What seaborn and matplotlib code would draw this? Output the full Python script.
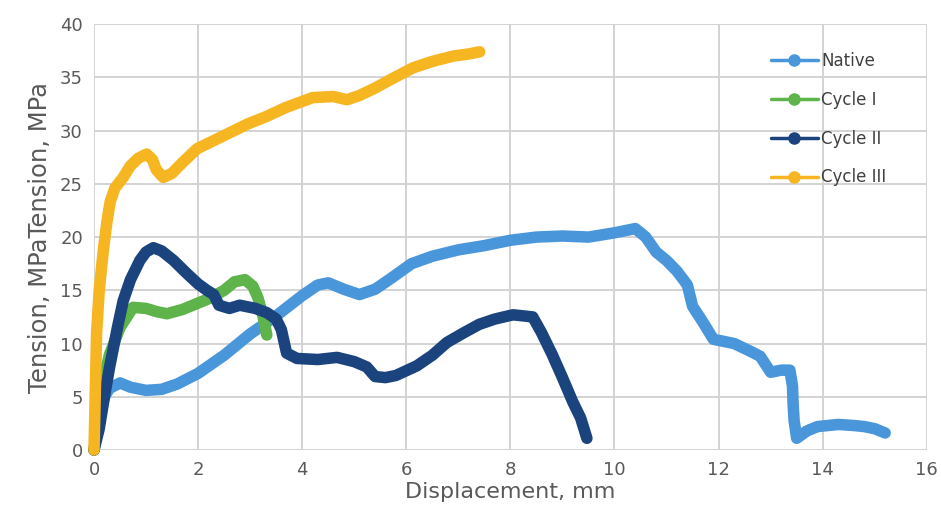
import numpy as np
import pandas as pd
import matplotlib
matplotlib.use("Agg")
import matplotlib.pyplot as plt
import seaborn as sns
from matplotlib.lines import Line2D

# ---- data ----
native_x = [0, 0.1, 0.2, 0.3, 0.5, 0.7, 1.0, 1.3, 1.6, 2.0, 2.5, 3.0, 3.5, 4.0, 4.3, 4.5, 4.8, 5.1,
            5.4, 5.7, 6.1, 6.5, 7.0, 7.5, 8.0, 8.5, 9.0, 9.5, 10.0, 10.4, 10.6, 10.8, 11.0, 11.2,
            11.4, 11.5, 11.7, 11.9, 12.3, 12.6, 12.8, 13.0, 13.2, 13.37, 13.42, 13.43, 13.45, 13.5,
            13.7, 13.9, 14.3, 14.6, 14.8, 15.0, 15.2]
native_y = [0, 3.0, 5.0, 5.8, 6.3, 5.9, 5.6, 5.7, 6.2, 7.2, 8.9, 10.9, 12.6, 14.5, 15.5, 15.7, 15.1, 14.6,
            15.1, 16.1, 17.5, 18.2, 18.8, 19.2, 19.7, 20.0, 20.1, 20.0, 20.4, 20.8, 20.0, 18.6, 17.8, 16.8,
            15.5, 13.5, 12.0, 10.4, 10.0, 9.3, 8.8, 7.3, 7.5, 7.5, 6.0, 4.5, 2.8, 1.1,
            1.8, 2.2, 2.4, 2.3, 2.2, 2.0, 1.6]

cycle1_x = [0, 0.1, 0.2, 0.3, 0.5, 0.75, 1.0, 1.2, 1.4, 1.7, 2.0, 2.2, 2.5, 2.7, 2.9, 3.05, 3.15, 3.25, 3.32]
cycle1_y = [0, 4.0, 7.0, 9.0, 11.5, 13.4, 13.3, 13.0, 12.8, 13.2, 13.8, 14.2, 15.0, 15.8, 16.0, 15.4, 14.3, 12.5, 10.8]

cycle2_x = [0, 0.1, 0.2, 0.3, 0.45, 0.56, 0.7, 0.88, 1.0, 1.14, 1.3, 1.53, 1.78, 2.0, 2.17, 2.3, 2.4, 2.6,
            2.8, 3.1, 3.32, 3.5, 3.6, 3.7, 3.9, 4.3, 4.67, 5.0, 5.24, 5.4, 5.6, 5.8, 6.2, 6.5, 6.78, 7.1,
            7.4, 7.7, 8.05, 8.43, 8.6, 8.8, 9.0, 9.2, 9.35, 9.47]
cycle2_y = [0, 2.0, 5.0, 7.8, 11.5, 14.0, 16.0, 17.8, 18.6, 19.0, 18.7, 17.8, 16.6, 15.6, 15.0, 14.6, 13.6, 13.3,
            13.6, 13.3, 12.9, 12.3, 11.3, 9.1, 8.6, 8.5, 8.7, 8.3, 7.8, 6.9, 6.8, 7.0, 7.9, 8.9, 10.1, 11.0,
            11.8, 12.3, 12.7, 12.5, 11.0, 9.0, 6.8, 4.5, 3.0, 1.1]

cycle3_x = [0, 0.05, 0.1, 0.18, 0.25, 0.31, 0.4, 0.56, 0.7, 0.85, 1.01, 1.12, 1.2, 1.33, 1.5, 1.7, 1.98, 2.4,
            2.94, 3.3, 3.7, 4.2, 4.6, 4.86, 5.1, 5.4, 5.7, 6.13, 6.5, 6.9, 7.2, 7.41]
cycle3_y = [0, 11.0, 15.0, 18.8, 21.5, 23.3, 24.6, 25.6, 26.7, 27.4, 27.8, 27.3, 26.3, 25.6, 26.0, 27.0, 28.3, 29.3,
            30.6, 31.3, 32.2, 33.1, 33.2, 32.9, 33.3, 34.0, 34.8, 35.9, 36.5, 37.0, 37.2, 37.4]

series_names = ["Native", "Cycle I", "Cycle II", "Cycle III"]
series_colors = ["#4A96DA", "#5EB34A", "#1B447E", "#F6B622"]
x_ticks = [0, 2, 4, 6, 8, 10, 12, 14, 16]
y_ticks = [0, 5, 10, 15, 20, 25, 30, 35, 40]

frames = []
for name, xs, ys in zip(series_names,
                        [native_x, cycle1_x, cycle2_x, cycle3_x],
                        [native_y, cycle1_y, cycle2_y, cycle3_y]):
    frames.append(pd.DataFrame({"x": xs, "y": ys, "series": name, "order": np.arange(len(xs))}))
df = pd.concat(frames, ignore_index=True)

sns.set_style("white")
fig = plt.figure(figsize=(9.41, 5.14), dpi=100)
ax = fig.add_axes([0.0999, 0.1245, 0.885, 0.8285])

palette = dict(zip(series_names, series_colors))
for name in series_names:
    sub = df[df["series"] == name]
    sns.lineplot(data=sub, x="x", y="y", color=palette[name], sort=False, estimator=None,
                 linewidth=8.3, ax=ax, legend=False, clip_on=False,
                 solid_capstyle="round", solid_joinstyle="round", zorder=3)

ax.set_xlim(0, 16)
ax.set_ylim(0, 40)
ax.set_xticks(x_ticks)
ax.set_yticks(y_ticks)
ax.grid(True, color="#D3D3D3", linewidth=1.4, zorder=0)
ax.set_axisbelow(True)
for s in ax.spines.values():
    s.set_visible(False)
ax.tick_params(axis="both", length=0, labelsize=13, labelcolor="#595959", pad=8)

ax.set_xlabel("Displacement, mm", fontsize=16, color="#595959", labelpad=2)
ax.set_ylabel("Tension, MPaTension, MPa", fontsize=17.5, color="#595959", labelpad=6)

handles = [Line2D([0], [0], color=c, lw=2.5, marker="o", markersize=8) for c in series_colors]
leg = ax.legend(handles, series_names, loc="upper left", bbox_to_anchor=(0.795, 0.97),
                frameon=False, fontsize=12, labelspacing=1.25, handlelength=2.8,
                handletextpad=0.2)
for t in leg.get_texts():
    t.set_color("#404040")

fig.savefig("out.png", dpi=100)
